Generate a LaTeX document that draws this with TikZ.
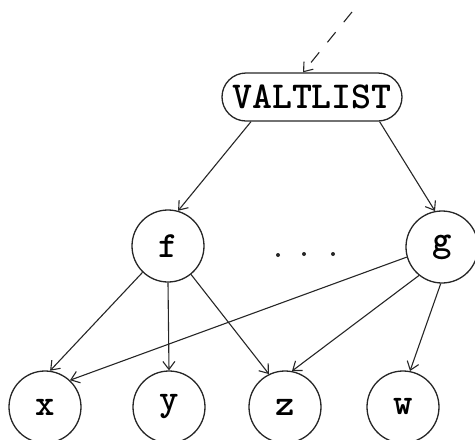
\documentclass[tikz,border=0pt]{standalone}
\usetikzlibrary{arrows.meta,shapes.misc}
\begin{document}
\begin{tikzpicture}[x=1pt,y=-1pt,
  ink/.style={draw=black!85, line width=1.3pt},
  leaf/.style={ink, circle, minimum size=72pt, inner sep=0pt,
    font=\ttfamily\bfseries\fontsize{37}{37}\selectfont},
  root/.style={ink, rounded rectangle, minimum width=180pt, minimum height=48pt,
    inner sep=0pt, font=\ttfamily\bfseries\fontsize{38}{38}\selectfont},
  edge/.style={ink, line width=1.1pt, -{Straight Barb[length=8pt,width=12pt,line width=1.1pt]}},
  dotmark/.style={fill=black!85, circle, inner sep=0pt, minimum size=4pt}]
\useasboundingbox (0,0) rectangle (475,440);

% list header and its incoming pointer
\node[root] (vl) at (312,97) {VALTLIST};
\coordinate (src) at (352,12);
\draw[edge, dash pattern=on 13pt off 13pt] (src) -- (vl.110);

% function nodes
\node[leaf] (f) at (168,246) {f};
\node[leaf] (g) at (442,247) {g};
\node[dotmark] (d1) at (278,255) {};
\node[dotmark] (d2) at (304,254) {};
\node[dotmark] (d3) at (333,254) {};

% variable nodes
\node[leaf] (x) at (45,407) {x};
\node[leaf] (y) at (169,407) {y};
\node[leaf] (z) at (285,407) {z};
\node[leaf] (w) at (403,407) {w};

% connectors
\draw[edge] (vl.-158) -- (f.74);
\draw[edge] (vl.-20) -- (g.101);
\draw[edge] (f.-134) -- (x.82);
\draw[edge] (f.-90) -- (y.90);
\draw[edge] (f.-51) -- (z.116);
\draw[edge] (g.-164) -- (x.47);
\draw[edge] (g.-129) -- (z.79);
\draw[edge] (g.-92) -- (w.79);
\end{tikzpicture}
\end{document}
